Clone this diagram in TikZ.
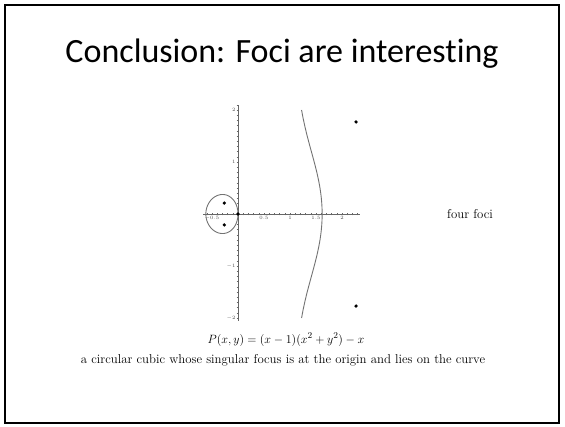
\documentclass[tikz,border=0pt]{standalone}
\usepackage{fontspec}
\newfontfamily\titlefont[Ligatures=NoCommon]{Carlito}
\tikzset{
  axisline/.style={draw=black!60, line width=0.6pt},
  tickline/.style={draw=black!60, line width=0.4pt},
  curveline/.style={draw=black!55, line width=0.9pt},
  focusdot/.style={circle, fill=black, inner sep=0pt, minimum size=3.6pt},
  ticklabel/.style={font=\fontsize{4.5}{5}\selectfont, text=black!70, inner sep=0.8pt},
  bodytext/.style={font=\fontsize{12.8}{15}\selectfont, inner sep=0pt}
}
\begin{document}
\begin{tikzpicture}[x=1pt,y=-1pt]
\useasboundingbox (0,0) rectangle (565,426);
\draw[line width=2pt] (5,5) rectangle (559,423);
\node[font=\titlefont\fontsize{34}{38}\selectfont, anchor=base, inner sep=0pt] (title) at (282,62) {Conclusion: Foci are interesting};
\begin{scope}[shift={(238,214)}, x=52pt, y=52pt]
  % axes
  \draw[axisline] (-0.67,0) -- (2.35,0);
  \draw[axisline] (0,-2.05) -- (0,2.1);
  \foreach \i in {-6,...,23} \draw[tickline] (\i/10,-0.025) -- (\i/10,0.025);
  \foreach \i in {-20,...,21} \draw[tickline] (-0.025,\i/10) -- (0.025,\i/10);
  % tick labels
  \foreach \v/\t in {-0.5/$-0.5$, 0.5/$0.5$, 1/$1$, 1.5/$1.5$, 2/$2$}
    \node[ticklabel, anchor=north] (xl\v) at (\v,-0.03) {\t};
  \foreach \v/\t in {2/$2$, 1/$1$, -1/$-1$, -2/$-2$}
    \node[ticklabel, anchor=east] (yl\v) at (-0.03,\v) {\t};
  % curve: loop and right branch
  \draw[curveline] plot[smooth, domain=90:270, samples=120, variable=\t]
    ({-2*cos(\t)/(1+sqrt(1+4*cos(\t)*cos(\t)))*cos(\t)},
     {-2*cos(\t)/(1+sqrt(1+4*cos(\t)*cos(\t)))*sin(\t)});
  \draw[curveline] plot[smooth, domain=-58.56:58.56, samples=120, variable=\t]
    ({(1+sqrt(1+4*cos(\t)*cos(\t)))/(2*cos(\t))*cos(\t)},
     {(1+sqrt(1+4*cos(\t)*cos(\t)))/(2*cos(\t))*sin(\t)});
  % foci
  \node[focusdot] (f0) at (0,0) {};
  \node[focusdot] (f1) at (-0.263,0.21) {};
  \node[focusdot] (f2) at (-0.263,-0.21) {};
  \node[focusdot] (f3) at (2.27,1.77) {};
  \node[focusdot] (f4) at (2.27,-1.77) {};
\end{scope}
\node[bodytext, anchor=west] (four) at (447,214) {four foci};
\node[bodytext, anchor=base] (formula) at (286,343) {$P(x,y)=(x-1)(x^2+y^2)-x$};
\node[bodytext, anchor=base] (caption) at (283,363) {a circular cubic whose singular focus is at the origin and lies on the curve};
\end{tikzpicture}
\end{document}
